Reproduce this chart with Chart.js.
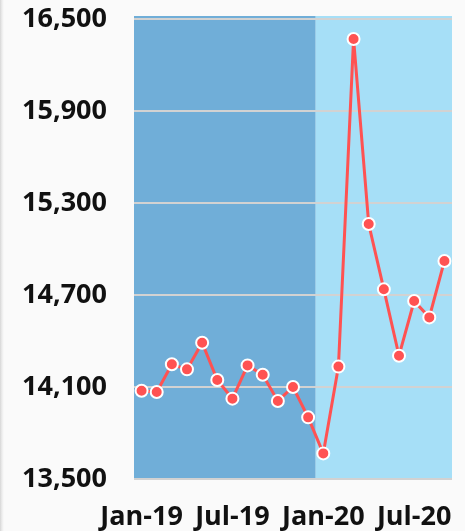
<!DOCTYPE html>
<html>
<head>
<meta charset="utf-8">
<script src="https://cdn.jsdelivr.net/npm/chart.js@4.4.1/dist/chart.umd.min.js"></script>
<style>
  html, body { margin: 0; padding: 0; }
  body {
    width: 465px; height: 531px; overflow: hidden;
    background: linear-gradient(to right, #d6d6d6 0px, #ededed 2px, #fafafa 4px, #fafafa 100%);
  }
  #wrap { position: relative; width: 465px; height: 531px; }
</style>
</head>
<body>
<div id="wrap"><canvas id="trendChart"></canvas></div>
<script>
const months = [
    'Jan-19', 'Feb-19', 'Mar-19', 'Apr-19', 'May-19', 'Jun-19', 'Jul-19',
    'Aug-19', 'Sep-19', 'Oct-19', 'Nov-19', 'Dec-19',
    'Jan-20', 'Feb-20', 'Mar-20', 'Apr-20', 'May-20', 'Jun-20', 'Jul-20',
    'Aug-20', 'Sep-20'
];
const values = [
    14076, 14067, 14248, 14215, 14389, 14146, 14024,
    14241, 14180, 14009, 14100, 13902,
    13667, 14233, 16370, 15163, 14737, 14304, 14661,
    14554, 14922
];
const shownMonths = ['Jan-19', 'Jul-19', 'Jan-20', 'Jul-20'];
const yTicks = [13500, 14100, 14700, 15300, 15900, 16500];
// shaded periods: first month of each band
const periodStarts = ['Jan-19', 'Jan-20'];

const bandColors = ['#70aed8', '#a6dff7'];

const bandsPlugin = {
    id: 'bands',
    beforeDraw(chart) {
        const { ctx, chartArea, scales } = chart;
        const x = scales.x;
        const half = (x.getPixelForValue(1) - x.getPixelForValue(0)) / 2;
        ctx.save();
        periodStarts.forEach((m, i) => {
            const start = months.indexOf(m);
            const left = i === 0 ? chartArea.left : x.getPixelForValue(start) - half;
            const right = i === periodStarts.length - 1
                ? chartArea.right
                : x.getPixelForValue(months.indexOf(periodStarts[i + 1])) - half;
            ctx.fillStyle = bandColors[i % bandColors.length];
            ctx.fillRect(left, chartArea.top - 3, right - left, chartArea.bottom - chartArea.top + 3);
        });
        ctx.restore();
    }
};

const tickFont = { family: 'Open Sans', size: 27, weight: 'bold' };

const ctx = document.getElementById('trendChart').getContext('2d');
const trendChart = new Chart(ctx, {
    type: 'line',
    data: {
        labels: months,
        datasets: [{
            data: values,
            borderColor: '#ff5252',
            borderWidth: 3,
            pointBackgroundColor: '#ff5252',
            pointBorderColor: '#ffffff',
            pointBorderWidth: 2,
            pointRadius: 6,
            tension: 0
        }]
    },
    options: {
        responsive: true,
        maintainAspectRatio: false,
        animation: false,
        layout: { padding: { top: 19, right: 13, left: 0, bottom: 0 } },
        plugins: {
            legend: { display: false },
            tooltip: { enabled: false }
        },
        scales: {
            x: {
                offset: true,
                grid: { display: false, drawTicks: false },
                border: { display: false },
                afterFit(scale) {
                    scale.height = 52;
                    scale.paddingLeft = 0;
                    scale.paddingRight = 0;
                },
                ticks: {
                    autoSkip: false,
                    maxRotation: 0,
                    padding: 22,
                    color: '#111111',
                    font: tickFont,
                    callback(value) {
                        const m = months[value];
                        return shownMonths.includes(m) ? m : '';
                    }
                }
            },
            y: {
                min: 13500,
                max: 16500,
                afterFit(scale) {
                    scale.width = 134;
                    scale.paddingTop = 0;
                    scale.paddingBottom = 0;
                },
                afterBuildTicks(scale) {
                    scale.ticks = yTicks.map(v => ({ value: v }));
                },
                grid: { color: '#d2d2d2', lineWidth: 2, drawTicks: false },
                border: { display: false },
                ticks: {
                    padding: 27,
                    color: '#111111',
                    font: tickFont,
                    callback(value) { return value.toLocaleString('en-US'); }
                }
            }
        }
    },
    plugins: [bandsPlugin]
});
</script>
</body>
</html>
